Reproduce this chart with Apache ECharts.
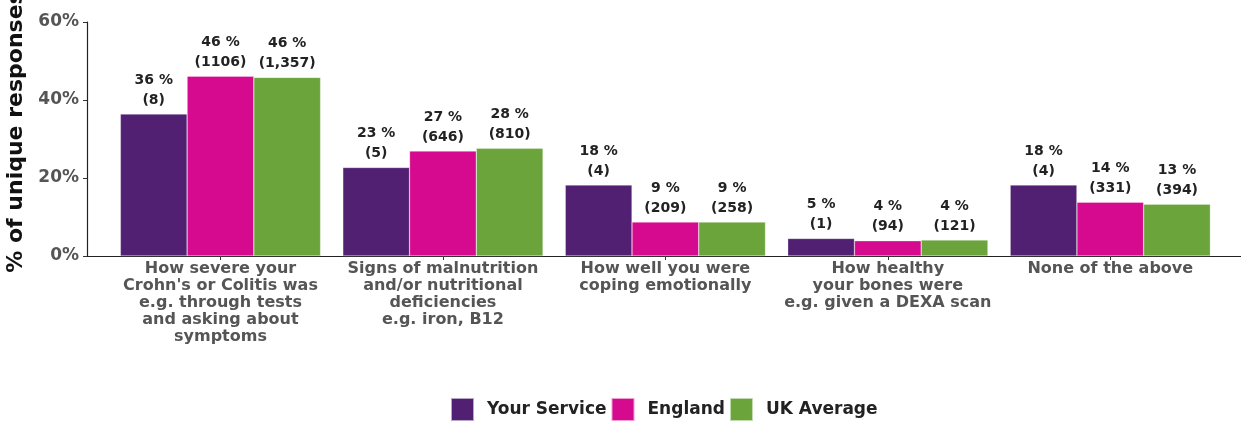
<!DOCTYPE html>
<html>
<head>
<meta charset="utf-8">
<script src="https://cdn.jsdelivr.net/npm/echarts@6/dist/echarts.min.js"></script>
<style>
html,body{margin:0;padding:0;background:#fff;}
#chart{width:1241px;height:421px;}
</style>
</head>
<body>
<div id="chart"></div>
<script>
const categories = [
  "How severe your\nCrohn's or Colitis was\ne.g. through tests\nand asking about\nsymptoms",
  "Signs of malnutrition\nand/or nutritional\ndeficiencies\ne.g. iron, B12",
  "How well you were\ncoping emotionally",
  "How healthy\nyour bones were\ne.g. given a DEXA scan",
  "None of the above"
];
const seriesNames = ["Your Service", "England", "UK Average"];
const yourServicePct = [36.4, 22.7, 18.2, 4.5, 18.2];
const englandPct = [46.1, 26.9, 8.7, 3.9, 13.8];
const ukAveragePct = [45.8, 27.6, 8.7, 4.1, 13.3];
const yourServiceCounts = ["8", "5", "4", "1", "4"];
const englandCounts = ["1106", "646", "209", "94", "331"];
const ukAverageCounts = ["1,357", "810", "258", "121", "394"];
const yTicks = [0, 20, 40, 60];
const colors = ["#522073", "#D60A8F", "#6AA43A"];

const FONT = "DejaVu Sans";
const chart = echarts.init(document.getElementById('chart'));

function makeSeries(name, values, counts, color) {
  return {
    name: name,
    type: 'bar',
    xAxisIndex: 1,
    yAxisIndex: 1,
    barGap: '0%',
    barCategoryGap: '10%',
    itemStyle: { color: color, borderColor: 'rgba(255,255,255,0.6)', borderWidth: 0.5 },
    label: {
      show: true,
      position: 'top',
      distance: 4,
      fontFamily: FONT,
      fontWeight: 'bold',
      fontSize: 14,
      lineHeight: 20,
      color: '#222',
      formatter: p => Math.round(values[p.dataIndex]) + ' %\n(' + counts[p.dataIndex] + ')'
    },
    data: values
  };
}

chart.setOption({
  animation: false,
  textStyle: { fontFamily: FONT },
  grid: [
    { left: 87, right: -2, top: 22, bottom: 165, outerBoundsMode: 'none', containLabel: false },
    { left: 109.25, right: 19.5, top: 22, bottom: 165, outerBoundsMode: 'none', containLabel: false }
  ],
  xAxis: [
    {
      gridIndex: 0, type: 'value', min: 0, max: 1,
      axisLine: { show: true, onZero: false, lineStyle: { color: '#222', width: 1.2 } },
      axisTick: { show: false }, axisLabel: { show: false }, splitLine: { show: false }
    },
    {
      gridIndex: 1, type: 'category', data: categories,
      axisLine: { show: false },
      axisTick: { show: true, alignWithLabel: true, length: 4, lineStyle: { color: '#333' } },
      axisLabel: {
        interval: 0, margin: 4, fontFamily: FONT, fontWeight: 'bold',
        fontSize: 16, lineHeight: 17, color: '#555', align: 'center'
      }
    }
  ],
  yAxis: [
    {
      gridIndex: 0, type: 'value', min: yTicks[0], max: yTicks[yTicks.length - 1], interval: 20,
      name: '% of unique responses', nameLocation: 'middle', nameGap: 54,
      nameTextStyle: { fontFamily: FONT, fontWeight: 'bold', fontSize: 22, color: '#111', padding: [0, 0, 0, 14] },
      axisLine: { show: true, lineStyle: { color: '#222', width: 1.2 } },
      axisTick: { show: true, length: 4, lineStyle: { color: '#333' } },
      axisLabel: { formatter: '{value}%', fontFamily: FONT, fontWeight: 'bold', fontSize: 17, color: '#555', margin: 8 },
      splitLine: { show: false }
    },
    {
      gridIndex: 1, type: 'value', min: 0, max: 60, show: false, splitLine: { show: false }
    }
  ],
  legend: {
    data: seriesNames,
    top: 397,
    left: 450,
    padding: 0,
    itemWidth: 23,
    itemHeight: 23,
    itemGap: 4,
    icon: 'rect',
    textStyle: { fontFamily: FONT, fontWeight: 'bold', fontSize: 17, color: '#222', padding: [0, 0, 0, 8] }
  },
  series: [
    makeSeries(seriesNames[0], yourServicePct, yourServiceCounts, colors[0]),
    makeSeries(seriesNames[1], englandPct, englandCounts, colors[1]),
    makeSeries(seriesNames[2], ukAveragePct, ukAverageCounts, colors[2])
  ]
});
</script>
</body>
</html>
